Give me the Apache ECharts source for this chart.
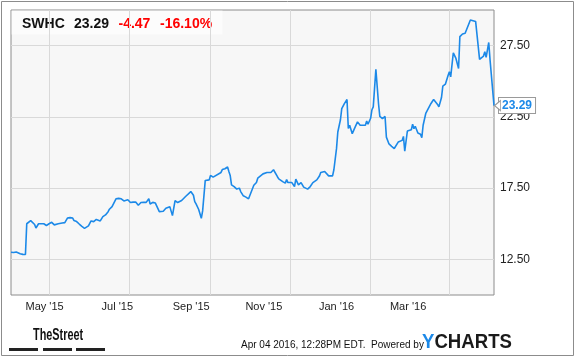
<!DOCTYPE html>
<html><head><meta charset="utf-8">
<script src="https://cdn.jsdelivr.net/npm/echarts@6/dist/echarts.min.js"></script>
<style>html,body{margin:0;padding:0;background:#fff}#c{width:575px;height:358px}</style>
</head><body><div id="c"></div>
<script>
const ticker = 'SWHC', lastPrice = '23.29', change = '-4.47', changePct = '-16.10%';
const startDate = '2015-04-02', endDate = '2016-04-04';
const stampText = 'Apr 04 2016, 12:28PM EDT.  Powered by';

const xTickDates = ['2015-05-01','2015-07-01','2015-09-01','2015-11-01','2016-01-01','2016-03-01'];
const xTickLabels = ["May '15","Jul '15","Sep '15","Nov '15","Jan '16","Mar '16"];
const yTickValues = [12.5, 17.5, 22.5, 27.5];

const priceDates = [
'2015-04-02','2015-04-04','2015-04-06','2015-04-07','2015-04-09','2015-04-11','2015-04-13','2015-04-14','2015-04-17','2015-04-18',
'2015-04-20','2015-04-21','2015-04-23','2015-04-24','2015-04-27','2015-04-29','2015-05-01','2015-05-03','2015-05-04','2015-05-05',
'2015-05-08','2015-05-11','2015-05-13','2015-05-15','2015-05-17','2015-05-19','2015-05-20','2015-05-22','2015-05-24','2015-05-26',
'2015-05-28','2015-05-29','2015-05-31','2015-06-02','2015-06-03','2015-06-04','2015-06-06','2015-06-07','2015-06-09','2015-06-11',
'2015-06-13','2015-06-15','2015-06-16','2015-06-17','2015-06-18','2015-06-21','2015-06-23','2015-06-25','2015-06-27','2015-06-28',
'2015-06-30','2015-07-02','2015-07-04','2015-07-06','2015-07-08','2015-07-09','2015-07-10','2015-07-12','2015-07-14','2015-07-16',
'2015-07-17','2015-07-19','2015-07-21','2015-07-22','2015-07-24','2015-07-27','2015-07-29','2015-08-01','2015-08-03','2015-08-05',
'2015-08-07','2015-08-10','2015-08-13','2015-08-17','2015-08-19','2015-08-20','2015-08-21','2015-08-23','2015-08-25','2015-08-26',
'2015-08-28','2015-08-31','2015-09-01','2015-09-03','2015-09-04','2015-09-09','2015-09-10','2015-09-12','2015-09-14','2015-09-15',
'2015-09-16','2015-09-17','2015-09-19','2015-09-21','2015-09-23','2015-09-24','2015-09-26','2015-09-28','2015-09-30','2015-10-01',
'2015-10-04','2015-10-05','2015-10-06','2015-10-07','2015-10-08','2015-10-11','2015-10-14','2015-10-15','2015-10-17','2015-10-19',
'2015-10-20','2015-10-22','2015-10-23','2015-10-26','2015-10-28','2015-10-29','2015-10-30','2015-11-02','2015-11-03','2015-11-04',
'2015-11-05','2015-11-07','2015-11-09','2015-11-11','2015-11-12','2015-11-14','2015-11-16','2015-11-18','2015-11-21','2015-11-23',
'2015-11-24','2015-11-27','2015-11-30','2015-12-03','2015-12-04','2015-12-06','2015-12-07','2015-12-08','2015-12-09','2015-12-10',
'2015-12-12','2015-12-14','2015-12-15','2015-12-16','2015-12-18','2015-12-20','2015-12-22','2015-12-24','2015-12-28','2015-12-29',
'2015-12-30','2015-12-31','2016-01-01','2016-01-02','2016-01-03','2016-01-05','2016-01-07','2016-01-08','2016-01-10','2016-01-11',
'2016-01-12','2016-01-13','2016-01-15','2016-01-17','2016-01-19','2016-01-20','2016-01-22','2016-01-25','2016-01-26','2016-01-27',
'2016-01-29','2016-02-01','2016-02-02','2016-02-03','2016-02-04','2016-02-06','2016-02-08','2016-02-09','2016-02-10','2016-02-12',
'2016-02-14','2016-02-15','2016-02-16','2016-02-17','2016-02-18','2016-02-21','2016-02-22','2016-02-24','2016-02-25','2016-02-27',
'2016-02-29','2016-03-01','2016-03-02','2016-03-04','2016-03-05','2016-03-06','2016-03-08','2016-03-09','2016-03-10','2016-03-11',
'2016-03-13','2016-03-14','2016-03-17','2016-03-18','2016-03-21','2016-03-22','2016-03-24','2016-03-27','2016-03-28','2016-03-29',
'2016-03-30','2016-03-31','2016-04-01','2016-04-04'
];
const prices = [
13.00,12.98,13.02,13.10,12.90,12.85,12.84,15.00,15.22,15.12,
14.95,14.70,15.00,15.05,15.00,14.88,15.00,15.10,15.15,14.92,
15.00,15.05,15.08,15.40,15.43,15.40,15.22,15.15,14.98,14.82,
14.68,14.70,14.85,15.20,15.27,15.15,15.30,15.32,15.20,15.50,
15.62,15.85,16.02,15.95,16.20,16.75,16.78,16.75,16.60,16.49,
16.68,16.49,16.52,16.53,16.30,16.27,16.49,16.50,16.50,16.75,
16.39,16.50,16.45,16.37,15.85,15.88,16.09,16.20,15.57,16.63,
16.49,16.63,16.91,17.26,17.00,16.55,16.39,16.00,15.38,15.90,
18.04,18.08,18.39,18.27,18.15,18.60,18.80,18.86,18.98,18.67,
18.39,17.73,17.61,17.43,17.50,17.26,16.96,16.87,16.75,16.63,
17.70,17.60,17.90,18.20,18.27,18.50,18.60,18.67,18.60,18.79,
18.70,18.30,18.15,17.96,17.85,18.10,17.89,17.89,17.90,17.61,
18.13,17.73,17.89,17.57,17.66,17.43,17.61,17.89,18.08,18.35,
18.60,18.67,18.36,18.36,18.79,20.27,21.44,21.56,22.30,23.08,
23.43,23.72,21.68,21.91,21.32,21.75,22.15,21.91,21.91,22.21,
21.98,22.00,22.40,23.00,23.20,25.83,23.44,22.53,22.37,22.25,
22.53,21.08,20.60,20.43,20.28,20.20,20.73,20.85,21.13,20.10,
21.51,21.60,21.98,21.67,21.84,21.37,21.28,21.04,21.91,22.74,
23.10,23.20,23.44,23.30,23.72,23.37,23.20,23.86,24.66,24.80,
25.40,25.67,25.31,27.00,26.80,26.60,25.90,28.13,28.18,28.32,
28.37,28.25,29.30,29.25,29.20,29.07,26.54,26.77,27.07,26.68,
26.55,27.72,26.49,23.29
];

// calendar-day categories
const days = [];
for (let t = Date.parse(startDate); t <= Date.parse(endDate); t += 86400000) {
  days.push(new Date(t).toISOString().slice(0, 10));
}
const priceMap = {};
priceDates.forEach((d, i) => { priceMap[d] = prices[i]; });
const seriesData = days.map(d => (d in priceMap ? priceMap[d] : null));
const lastDate = priceDates[priceDates.length - 1];
const lastValue = prices[prices.length - 1];

const FONT = '"Liberation Sans", Arial, Helvetica, sans-serif';
const chart = echarts.init(document.getElementById('c'), null, { renderer: 'canvas' });
chart.setOption({
  animation: false,
  backgroundColor: '#ffffff',
  textStyle: { fontFamily: FONT },
  grid: [
    { left: 11, right: 81, top: 10, bottom: 63, show: true, backgroundColor: '#f7f7f7',
      borderColor: '#8c8c8c', borderWidth: 1, containLabel: false, outerBoundsMode: 'none' },
    { left: 10, right: 126.4, top: 10, bottom: 63, show: false, containLabel: false, outerBoundsMode: 'none' }
  ],
  xAxis: [
    { type: 'category', gridIndex: 0, data: days, boundaryGap: false,
      axisLine: { show: false }, axisTick: { show: false }, axisLabel: { show: false },
      splitLine: { show: true, interval: (i, v) => xTickDates.includes(v), lineStyle: { color: '#d9d9d9', width: 1 } } },
    { type: 'category', gridIndex: 1, data: days, boundaryGap: false,
      axisLine: { show: false }, axisTick: { show: false }, splitLine: { show: false },
      axisLabel: { show: true, interval: (i, v) => xTickDates.includes(v),
        formatter: v => { const k = xTickDates.indexOf(v); return k >= 0 ? xTickLabels[k] : ''; },
        fontSize: 11, color: '#222', margin: 6, fontFamily: FONT } }
  ],
  yAxis: [
    { type: 'value', gridIndex: 0, position: 'right', min: 10, max: 30, interval: 2.5,
      axisLine: { show: false }, axisTick: { show: false },
      splitLine: { show: true, lineStyle: { color: ['transparent', '#d9d9d9'], width: 1 } },
      axisLabel: { formatter: v => (yTickValues.includes(v) ? v.toFixed(2) : ''), fontSize: 12, color: '#222', margin: 6, fontFamily: FONT } },
    { type: 'value', gridIndex: 1, show: false }
  ],
  series: [{
    type: 'line', xAxisIndex: 0, yAxisIndex: 0, data: seriesData, connectNulls: true,
    showSymbol: false, symbol: 'none', lineStyle: { color: '#1c89e8', width: 1.6 },
    endLabel: { show: true, formatter: p => Number(p.value).toFixed(2), color: '#1c89e8', fontWeight: 'bold',
      fontSize: 12, fontFamily: FONT, backgroundColor: '#ffffff', borderColor: '#9a9a9a', borderWidth: 1,
      padding: [2, 3, 1, 3], distance: 5 },
    markPoint: {
      silent: true, animation: false,
      symbol: 'path://M0,5L6,0L6,10Z', symbolSize: [6, 10], symbolOffset: [3.5, 0],
      itemStyle: { color: '#ffffff', borderColor: '#9a9a9a', borderWidth: 1 },
      label: { show: false },
      data: [{ coord: [lastDate, lastValue] }]
    }
  }],
  graphic: [
    { type: 'rect', silent: true, shape: { x: 1.5, y: 1.5, width: 572, height: 354 }, style: { fill: 'none', stroke: '#8c8c8c', lineWidth: 1 } },
    { type: 'rect', silent: true, shape: { x: 11.5, y: 10.5, width: 211, height: 24 }, style: { fill: 'rgba(255,255,255,0.6)' } },
    { type: 'text', silent: true, x: 22, y: 24, style: { text: ticker, font: 'bold 14px ' + FONT, fill: '#111', verticalAlign: 'middle' } },
    { type: 'text', silent: true, x: 74, y: 24, style: { text: lastPrice, font: 'bold 14px ' + FONT, fill: '#111', verticalAlign: 'middle' } },
    { type: 'text', silent: true, x: 118.5, y: 24, style: { text: change, font: 'bold 14px ' + FONT, fill: '#ff0000', verticalAlign: 'middle' } },
    { type: 'text', silent: true, x: 160, y: 24, style: { text: changePct, font: 'bold 14px ' + FONT, fill: '#ff0000', verticalAlign: 'middle' } },
    { type: 'text', silent: true, x: 33, y: 336, scaleX: 0.68, style: { text: 'TheStreet', font: 'bold 16px ' + FONT, fill: '#111', verticalAlign: 'middle' } },
    { type: 'rect', silent: true, shape: { x: 9, y: 348, width: 29, height: 3 }, style: { fill: '#222' } },
    { type: 'rect', silent: true, shape: { x: 43, y: 348, width: 29, height: 3 }, style: { fill: '#222' } },
    { type: 'rect', silent: true, shape: { x: 76, y: 348, width: 29, height: 3 }, style: { fill: '#222' } },
    { type: 'text', silent: true, x: 241, y: 345, style: { text: stampText, font: '10px ' + FONT, fill: '#111', verticalAlign: 'middle' } },
    { type: 'text', silent: true, x: 422, y: 342, scaleX: 0.93, style: { text: '{y|Y}{c|CHARTS}', verticalAlign: 'middle',
      rich: { y: { fill: '#1c89e8', fontSize: 20, fontWeight: 'bold', fontFamily: FONT },
              c: { fill: '#1a1a1a', fontSize: 20, fontWeight: 'bold', fontFamily: FONT } } } }
  ]
});
</script></body></html>
